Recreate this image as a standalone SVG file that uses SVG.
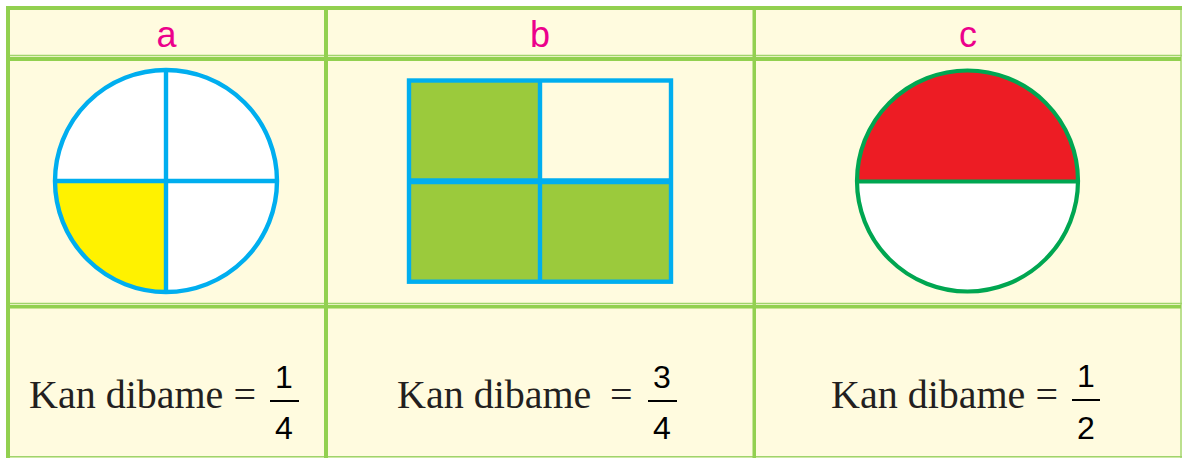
<svg xmlns="http://www.w3.org/2000/svg" width="1182" height="458" viewBox="0 0 1182 458">
<style>
.thick{fill:#92d050}
.thin{stroke:#9fd46c;stroke-width:1.4}
.hdr{font-family:"Liberation Sans",Arial,sans-serif;font-size:36px;fill:#ec008c;text-anchor:middle}
.lbl{font-family:"Liberation Serif","Times New Roman",serif;font-size:40px;fill:#231f20}
.num{font-family:"Liberation Sans",Arial,sans-serif;font-size:32px;fill:#000;text-anchor:middle}
.bar{stroke:#000;stroke-width:2}
.blue{stroke:#00aeef;stroke-width:4.4;fill:none}
</style>
<rect x="0" y="0" width="1182" height="458" fill="#ffffff"/>
<g id="table">
<rect x="6" y="6" width="1176" height="452" fill="#fffbdf"/>
<line class="thin" x1="6" y1="55.5" x2="1182" y2="55.5"/>
<line class="thin" x1="6" y1="303.5" x2="1182" y2="303.5"/>
<line class="thin" x1="6" y1="456.8" x2="1182" y2="456.8"/>
<line class="thin" x1="1181" y1="6" x2="1181" y2="458"/>
<rect class="thick" x="6" y="6" width="1176" height="4"/>
<rect class="thick" x="6" y="6" width="4" height="452"/>
<rect class="thick" x="6" y="57" width="1175" height="4"/>
<rect class="thick" x="6" y="305" width="1175" height="3.5"/>
<rect class="thick" x="324" y="6" width="4" height="452"/>
<rect class="thick" x="752.5" y="6" width="3.5" height="452"/>
</g>
<g id="header-a"><text class="hdr" x="166.5" y="47">a</text></g>
<g id="header-b"><text class="hdr" x="540" y="47">b</text></g>
<g id="header-c"><text class="hdr" x="968" y="47">c</text></g>
<g id="shape-a">
<circle cx="166" cy="181" r="111" fill="#ffffff"/>
<path d="M166,181 L55,181 A111,111 0 0 0 166,292 Z" fill="#fff200"/>
<circle class="blue" cx="166" cy="181" r="111"/>
<line class="blue" x1="166" y1="70" x2="166" y2="292"/>
<line class="blue" x1="55" y1="181" x2="277" y2="181"/>
</g>
<g id="shape-b">
<rect x="409" y="80.5" width="131" height="100.8" fill="#9bca3c"/>
<rect x="409" y="181.3" width="262" height="100.4" fill="#9bca3c"/>
<rect class="blue" x="409" y="80.5" width="262" height="201.2"/>
<line class="blue" x1="540" y1="80.5" x2="540" y2="281.7"/>
<line x1="409" y1="181.3" x2="671" y2="181.3" stroke="#00aeef" stroke-width="6"/>
</g>
<g id="shape-c">
<circle cx="967.5" cy="181" r="110.5" fill="#ffffff"/>
<path d="M857,181 A110.5,110.5 0 0 1 1078,181 Z" fill="#ed1c24"/>
<circle cx="967.5" cy="181" r="110.5" fill="none" stroke="#00a651" stroke-width="4.2"/>
<line x1="857" y1="181.5" x2="1078" y2="181.5" stroke="#00a651" stroke-width="4"/>
</g>
<g id="label-a">
<text class="lbl" x="29" y="408">Kan dibame =</text>
<text class="num" x="284" y="388">1</text>
<line class="bar" x1="270" y1="401" x2="299" y2="401"/>
<text class="num" x="284" y="439">4</text>
</g>
<g id="label-b">
<text class="lbl" x="397" y="408">Kan dibame</text>
<text class="lbl" x="610" y="408">=</text>
<text class="num" x="662" y="387.5">3</text>
<line class="bar" x1="648" y1="401" x2="677" y2="401"/>
<text class="num" x="662" y="439">4</text>
</g>
<g id="label-c">
<text class="lbl" x="831" y="408">Kan dibame =</text>
<text class="num" x="1086" y="387">1</text>
<line class="bar" x1="1072" y1="400" x2="1100" y2="400"/>
<text class="num" x="1086" y="438.5">2</text>
</g>
</svg>
